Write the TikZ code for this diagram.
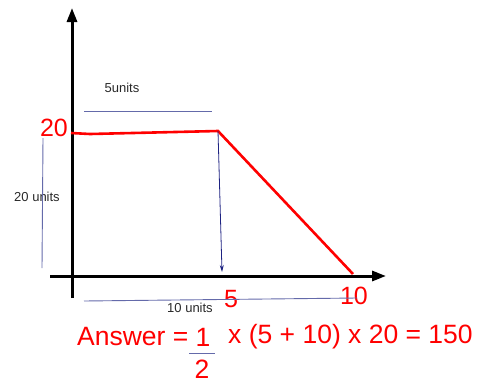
\documentclass[tikz,border=0pt]{standalone}
\usepackage{fontspec}
\setmainfont{Liberation Sans}
\usetikzlibrary{positioning,arrows.meta}

\begin{document}
\begin{tikzpicture}[x=1pt, y=-1pt,
  every node/.style={inner sep=0pt},
  axis/.style={-{Triangle[length=14pt, width=10pt]}, line width=3pt},
  graph/.style={red, line width=2.6pt},
  dim/.style={color={rgb,255:red,100;green,106;blue,170}, line width=0.9pt},
  drop/.style={-{Stealth[length=7pt, width=4pt]}, color={rgb,255:red,30;green,35;blue,130}, line width=0.8pt},
  small/.style={font=\fontsize{13}{15}\selectfont, text={rgb,255:red,40;green,40;blue,40}},
  big/.style={font=\fontsize{25}{28}\selectfont, text=red},
  ans/.style={font=\fontsize{26.5}{30}\selectfont, text=red}]
\useasboundingbox (0,0) rectangle (480,384);

% axes
\coordinate (O1) at (72,298);
\coordinate (ytip) at (72,8);
\coordinate (O2) at (50,276);
\coordinate (xtip) at (386,276);
\draw[axis] (O1) -- (ytip);
\draw[axis] (O2) -- (xtip);

% the graph
\coordinate (g0) at (71,133);
\coordinate (g1) at (90,134);
\coordinate (g2) at (218,131);
\coordinate (g3) at (353,274);
\draw[graph] (g0) -- (g1) -- (g2) -- (g3);

% labels
\node[big] (twenty) at (54,128) {20};
\node[big] (five) at (231,299) {5};
\node[big] (ten) at (354,296) {10};
\node[small] (topunits) at (122,88) {5units};
\node[small] (sideunits) at (37,197) {20 units};
\node[small] (botunits) at (190,308) {10 units};

% dimension lines
\coordinate (t1) at (84,111);
\coordinate (t2) at (212,111);
\coordinate (s1) at (43,138);
\coordinate (s2) at (42,268);
\coordinate (b1) at (84,301);
\coordinate (b2) at (357,298);
\coordinate (dropend) at (222,272);
\draw[dim] (t1) -- (t2);
\draw[dim] (s1) -- (s2);
\draw[dim] (b1) -- (b2);
\draw[drop] (g2) -- (dropend);

% answer
\node[ans, anchor=west] (answer) at (77,337) {Answer =};
\node[ans] (one) at (203,337) {1};
\node[ans, anchor=west] (rest) at (228,337) {x (5 + 10) x 20 = 150};
\node[ans] (two) at (202,369) {2};
\coordinate (bar1) at (189,353);
\coordinate (bar2) at (215,353);
\draw[dim] (bar1) -- (bar2);
\end{tikzpicture}
\end{document}
